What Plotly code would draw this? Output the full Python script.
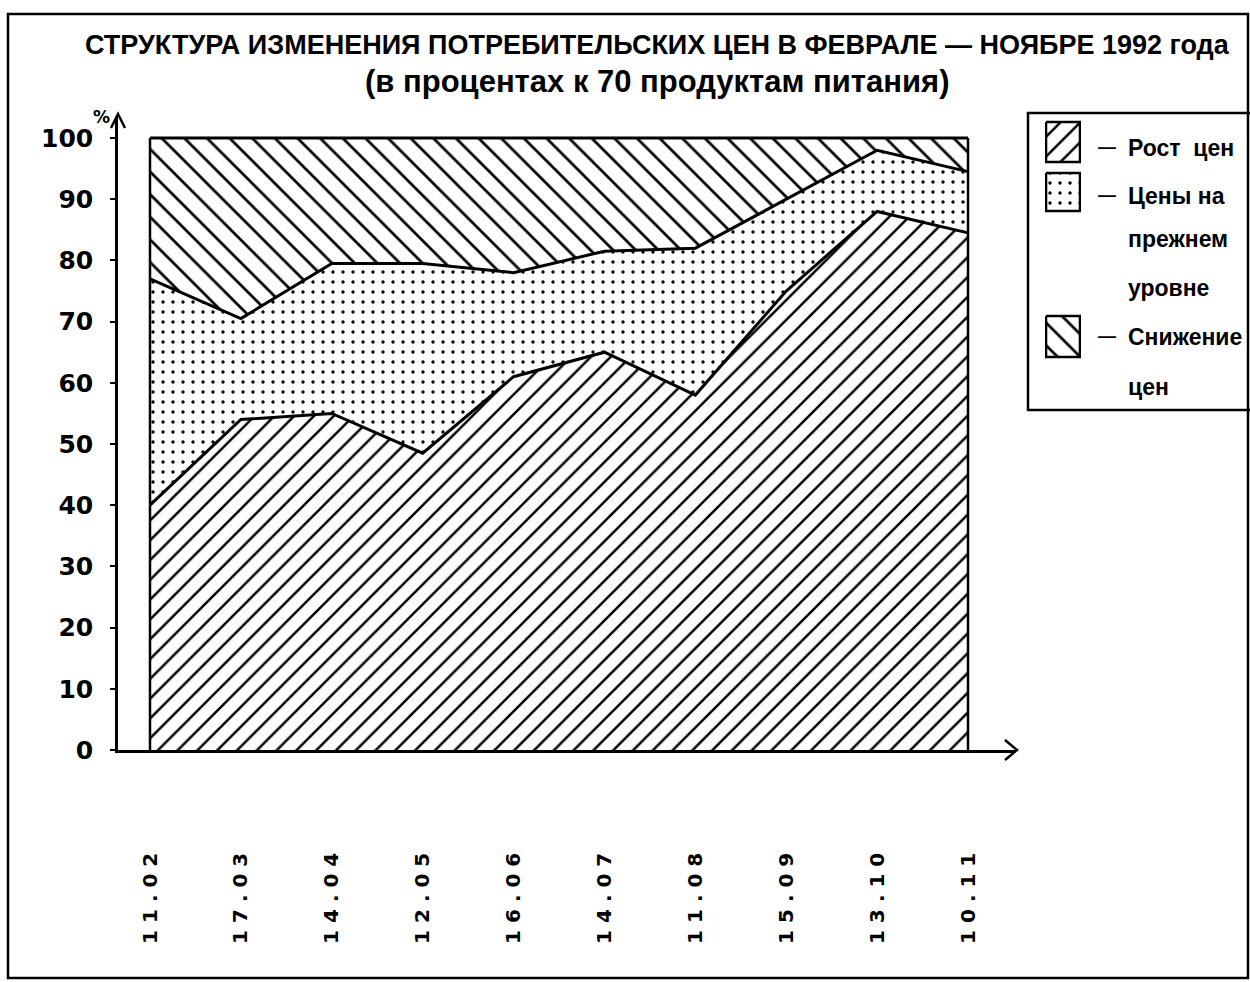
import plotly.graph_objects as go
import numpy as np

# ---------------- data ----------------
dates = ["11.02", "17.03", "14.04", "12.05", "16.06", "14.07", "11.08", "15.09", "13.10", "10.11"]
rost_cen = [40, 54, 55, 48.5, 61, 65, 58, 75, 88, 84.5]          # Рост цен
ceny_prezhnie = [37, 16.5, 24.5, 31, 17, 16.5, 24, 15, 10, 10]   # Цены на прежнем уровне
snizhenie = [23, 29.5, 20.5, 20.5, 22, 18.5, 18, 10, 2, 5.5]     # Снижение цен
y_ticks = [0, 10, 20, 30, 40, 50, 60, 70, 80, 90, 100]

title_1 = "СТРУКТУРА ИЗМЕНЕНИЯ ПОТРЕБИТЕЛЬСКИХ ЦЕН В ФЕВРАЛЕ — НОЯБРЕ 1992 года"
title_2 = "(в процентах к 70 продуктам питания)"
legend_lines = [["Рост  цен"], ["Цены на", "прежнем", "уровне"], ["Снижение", "цен"]]

# ---------------- geometry helpers (pixels -> paper) ----------------
W, H = 1250, 982
ML, MR, MT, MB = 118, 0, 100, 232
PW, PH = W - ML - MR, H - MT - MB


def px(x):
    return (x - ML) / PW


def py(y):
    return (H - MB - y) / PH


x = np.arange(len(dates))
low = np.array(rost_cen, dtype=float)
mid = low + np.array(ceny_prezhnie, dtype=float)
top = mid + np.array(snizhenie, dtype=float)

TITLE_FONT = "Liberation Sans, Arial, sans-serif"
NUM_FONT = "DejaVu Sans, sans-serif"

pat_up = dict(shape="/", size=14, solidity=0.18, fgcolor="black", bgcolor="white", fgopacity=1)
pat_dot = dict(shape=".", size=10, solidity=0.09, fgcolor="black", bgcolor="white", fgopacity=1)
pat_down = dict(shape="\\", size=16, solidity=0.17, fgcolor="black", bgcolor="white", fgopacity=1)
patterns = [pat_up, pat_dot, pat_down]

fig = go.Figure()

fig.add_trace(go.Scatter(x=x, y=low, mode="lines", fill="tozeroy", fillcolor="white",
                         fillpattern=pat_up, line=dict(color="black", width=3),
                         showlegend=False, hoverinfo="skip"))
fig.add_trace(go.Scatter(x=x, y=mid, mode="lines", fill="tonexty", fillcolor="white",
                         fillpattern=pat_dot, line=dict(color="black", width=3),
                         showlegend=False, hoverinfo="skip"))
fig.add_trace(go.Scatter(x=x, y=top, mode="lines", fill="tonexty", fillcolor="white",
                         fillpattern=pat_down, line=dict(color="black", width=3),
                         showlegend=False, hoverinfo="skip"))

# side edges of the area block
fig.add_shape(type="line", xref="x", yref="y", x0=x[0], x1=x[0], y0=0, y1=top[0],
              line=dict(color="black", width=2.5))
fig.add_shape(type="line", xref="x", yref="y", x0=x[-1], x1=x[-1], y0=0, y1=top[-1],
              line=dict(color="black", width=2.5))

# ---------------- legend (manual) ----------------
sw_tops = [(122, 162), (173, 211), (316, 357)]
for (y0, y1), pat in zip(sw_tops, patterns):
    fig.add_trace(go.Scatter(x=[0, 1, 1, 0, 0], y=[y0, y0, y1, y1, y0], mode="lines",
                             fill="toself", fillcolor="white", fillpattern=pat,
                             line=dict(color="black", width=2.5), xaxis="x2", yaxis="y2",
                             showlegend=False, hoverinfo="skip"))

leg_font = dict(family=TITLE_FONT, size=23, color="black")
line_ys = [[148], [196, 239, 288], [337, 387]]
for lines, ys in zip(legend_lines, line_ys):
    fig.add_annotation(xref="paper", yref="paper", x=px(1096), y=py(ys[0] - 1), text="<b>—</b>",
                       showarrow=False, xanchor="left", yanchor="middle",
                       font=dict(family=TITLE_FONT, size=18, color="black"))
    for t, yy in zip(lines, ys):
        fig.add_annotation(xref="paper", yref="paper", x=px(1126), y=py(yy), text="<b>%s</b>" % t,
                           showarrow=False, xanchor="left", yanchor="middle", font=leg_font)

# legend frame
fig.add_shape(type="rect", xref="paper", yref="paper", x0=px(1028), x1=px(1262),
              y0=py(410), y1=py(113), line=dict(color="black", width=2.5))

# page frame
fig.add_shape(type="rect", xref="paper", yref="paper", x0=px(8), x1=px(1248),
              y0=py(978), y1=py(14), line=dict(color="black", width=2.5))

# axis arrowheads
fig.add_shape(type="path", xref="paper", yref="paper",
              path="M %f %f L %f %f L %f %f" % (px(111), py(128), px(118), py(114), px(125), py(128)),
              line=dict(color="black", width=2.5))
fig.add_shape(type="path", xref="paper", yref="paper",
              path="M %f %f L %f %f L %f %f" % (px(1005), py(740), px(1017), py(750), px(1005), py(760)),
              line=dict(color="black", width=2.5))

fig.add_annotation(xref="paper", yref="paper", x=px(101), y=py(117), text="<b>%</b>",
                   showarrow=False, xanchor="center", yanchor="middle",
                   font=dict(family=NUM_FONT, size=17, color="black"))

# titles
fig.add_annotation(xref="paper", yref="paper", x=px(657), y=py(45), text="<b>%s</b>" % title_1,
                   showarrow=False, xanchor="center", yanchor="middle",
                   font=dict(family=TITLE_FONT, size=27, color="black"))
fig.add_annotation(xref="paper", yref="paper", x=px(657), y=py(81), text="<b>%s</b>" % title_2,
                   showarrow=False, xanchor="center", yanchor="middle",
                   font=dict(family=TITLE_FONT, size=31, color="black"))

x_lo = x[0] - 32 / 90.9
x_hi = x[-1] + 47 / 90.9

fig.update_layout(
    width=W, height=H,
    margin=dict(l=ML, r=MR, t=MT, b=MB, pad=0),
    plot_bgcolor="white", paper_bgcolor="white",
    xaxis=dict(domain=[0, px(1015)], range=[x_lo, x_hi], showgrid=False, zeroline=False,
               showline=True, linecolor="black", linewidth=2.5,
               tickmode="array", tickvals=x, ticktext=["<b>%s</b>" % " ".join(d) for d in dates],
               tickangle=-90, ticks="", ticklabelstandoff=92,
               tickfont=dict(family=NUM_FONT, size=20, color="black")),
    yaxis=dict(domain=[0, py(117)], range=[0, (H - MB - 117) / 6.12], showgrid=False,
               zeroline=False, showline=True, linecolor="black", linewidth=2.5,
               tickmode="array", tickvals=y_ticks, ticktext=["<b>%d</b>" % v for v in y_ticks],
               ticks="outside", ticklen=5, tickwidth=2, tickcolor="black", ticklabelstandoff=12,
               tickfont=dict(family=NUM_FONT, size=25, color="black")),
    xaxis2=dict(domain=[px(1045), px(1081)], range=[-0.03, 1.03], visible=False, anchor="y2"),
    yaxis2=dict(domain=[py(362), py(118)], range=[362, 118], visible=False, anchor="x2"),
)

fig.write_html("out.html", config={"displayModeBar": False},
               post_script="document.body.style.margin='0';")
